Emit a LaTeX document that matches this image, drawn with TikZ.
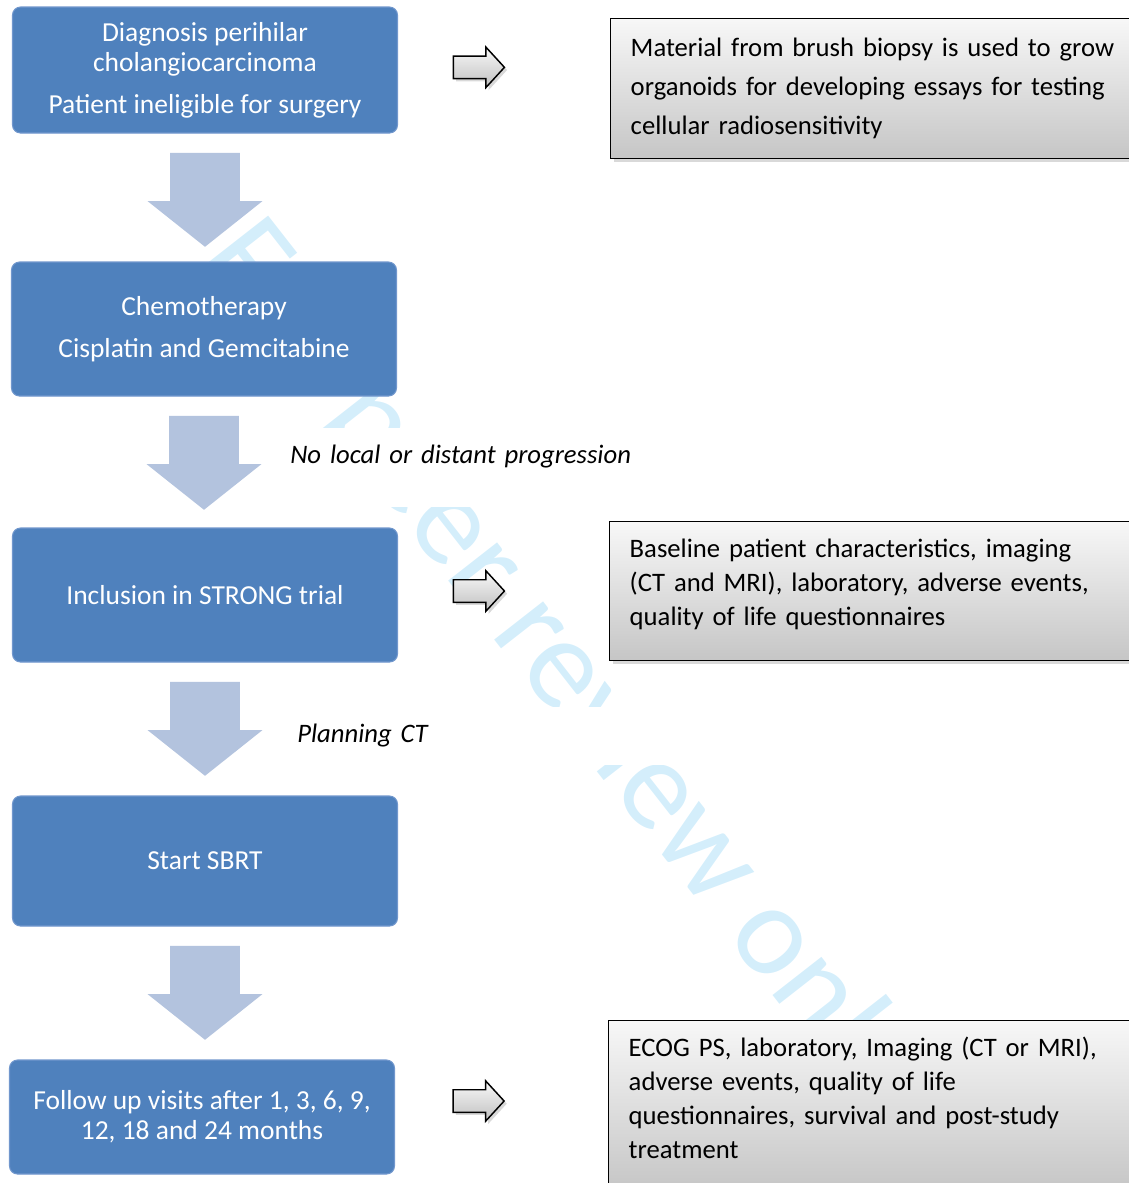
\documentclass[tikz,border=0pt]{standalone}
\usepackage{fontspec}
\setmainfont{Carlito}
\usepackage{tikz}
\usetikzlibrary{positioning,calc,shapes.arrows,shadows}
\definecolor{stepblue}{RGB}{79,129,189}
\definecolor{stepedge}{RGB}{113,151,205}
\definecolor{flowblue}{RGB}{179,195,222}
\definecolor{markcyan}{RGB}{212,238,251}

\begin{document}
\begin{tikzpicture}[x=0.75pt,y=-0.75pt,
stepbox/.style={draw=stepedge,line width=0.8pt,fill=stepblue,rounded corners=6pt,text=white,align=center,minimum width=288.75pt,font=\fontsize{20.6pt}{22.5pt}\selectfont},
infobox/.style={draw=black,line width=1.1pt,top color=gray!6,bottom color=gray!45,drop shadow={shadow xshift=2.5pt,shadow yshift=-2.5pt,opacity=0.3},anchor=north west,align=left,text width=375pt,inner xsep=15pt,font=\fontsize{20pt}{25.5pt}\selectfont},
flowarrow/.style={single arrow,rotate=-90,fill=flowblue,inner xsep=0pt,inner ysep=25.9pt,single arrow head extend=16.9pt,single arrow tip angle=103,minimum height=70.5pt,anchor=tail},
sidearrow/.style={single arrow,draw=black,line width=1.1pt,top color=gray!5,bottom color=gray!50,drop shadow={shadow xshift=2pt,shadow yshift=-2pt,opacity=0.3},inner xsep=0pt,inner ysep=7.9pt,single arrow head extend=6.75pt,single arrow tip angle=95,minimum height=38.25pt},
steplabel/.style={fill=white,anchor=west,align=left,text width=330pt,inner xsep=3pt,minimum height=44pt,font=\fontsize{20pt}{22.5pt}\selectfont\itshape}
]
\useasboundingbox (0,0) rectangle (1129,1183);
\node[rotate=-52,text=markcyan,font=\fontsize{97.5pt}{100pt}\selectfont] (mark) at (558,665) {For peer review only};

\node[stepbox,minimum height=94.5pt] (diag) at (205,70) {Diagnosis perihilar\\cholangiocarcinoma\\[9pt]Patient ineligible for surgery};
\node[stepbox,minimum height=100.5pt] (chemo) at (204,329) {Chemotherapy\\[9pt]Cisplatin and Gemcitabine};
\node[stepbox,minimum height=100.5pt] (incl) at (205,595) {Inclusion in STRONG trial};
\node[stepbox,minimum height=97.5pt] (sbrt) at (205,861) {Start SBRT};
\node[stepbox,minimum height=85.5pt] (follow) at (202,1117) {Follow up visits after 1, 3, 6, 9,\\12, 18 and 24 months};

\node[flowarrow] (flow1) at ($(diag.south)+(0,19)$) {};
\node[flowarrow] (flow2) at ($(chemo.south)+(0,19)$) {};
\node[flowarrow] (flow3) at ($(incl.south)+(0,19)$) {};
\node[flowarrow] (flow4) at ($(sbrt.south)+(0,19)$) {};

\node[steplabel,minimum height=59pt] (noprog) at (286,467.5) {No local or distant progression\rule[-20pt]{0pt}{20pt}};
\node[steplabel] (plan) at (293,736) {Planning CT};

\node[sidearrow,right=41pt of diag,yshift=2pt] (side1) {};
\node[sidearrow,right=41pt of incl,yshift=3pt] (side2) {};
\node[sidearrow,right=43pt of follow,yshift=12pt] (side3) {};

\node[infobox,minimum height=105pt,font=\fontsize{20pt}{29.25pt}\selectfont] (biopsy) at (610,18) {Material from brush biopsy is used to grow\\organoids for developing essays for testing\\cellular radiosensitivity};
\node[infobox,minimum height=104.25pt] (baseline) at (609,521) {Baseline patient characteristics, imaging\\(CT and MRI), laboratory, adverse events,\\quality of life questionnaires\rule[-13pt]{0pt}{13pt}};
\node[infobox,minimum height=127.5pt] (visits) at (608,1020) {ECOG PS, laboratory, Imaging (CT or MRI),\\adverse events, quality of life\\questionnaires, survival and post-study\\treatment\rule[-12pt]{0pt}{12pt}};
\end{tikzpicture}
\end{document}
